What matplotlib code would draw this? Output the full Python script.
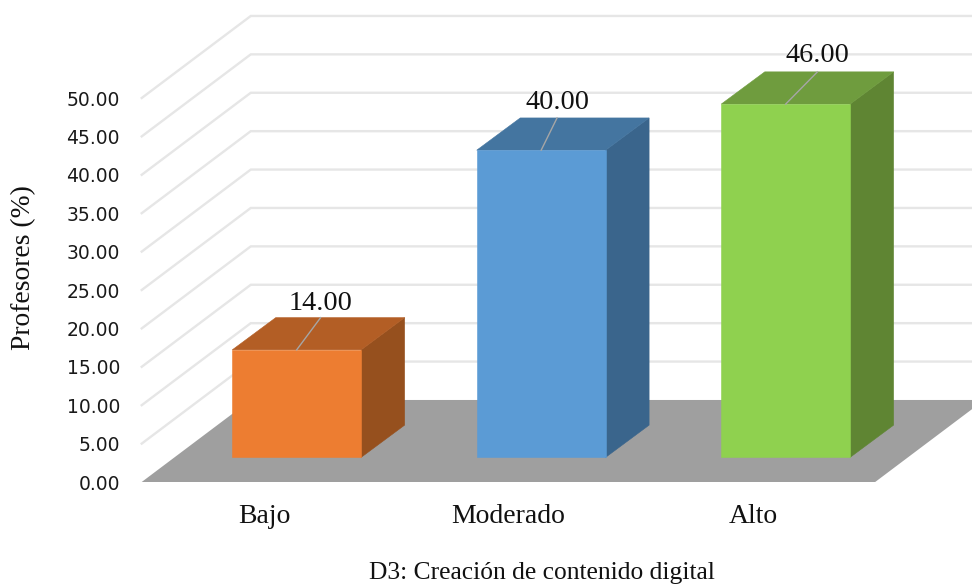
import numpy as np
import matplotlib
matplotlib.use("Agg")
import matplotlib.pyplot as plt

categories = ["Bajo", "Moderado", "Alto"]
values = [14.00, 40.00, 46.00]
front_colors = ["#ED7D31", "#5B9BD5", "#8FD14F"]
top_colors = ["#B35E25", "#4475A0", "#6F9C3E"]
side_colors = ["#96501E", "#3A658C", "#5F8533"]
y_ticks = [0, 5, 10, 15, 20, 25, 30, 35, 40, 45, 50]

# fake 3d: floor depth and bar depth in data units
floor_dx, floor_dy = 0.446, 10.68
bar_dx, bar_dy = 0.178, 4.2
bar_w = 0.527
base = 0.3
# how far each leader line leans to the right, and label gap above it
leader_dx = [0.098, 0.065, 0.13]
label_gap = [5.2, 6.6, 7.2]

serif = "Liberation Serif"

fig = plt.figure(figsize=(9.72, 5.84), dpi=100)
ax = fig.add_axes([140 / 972, 102 / 584, 832 / 972, 482 / 584])
ax.set_xlim(-0.507, 2.896)
ax.set_ylim(0, 482 / 7.68)

# walls
for v in y_ticks[1:]:
    ax.plot([-0.5, -0.5 + floor_dx, 3.2], [v, v + floor_dy, v + floor_dy],
            color="#E6E6E6", lw=1.7, zorder=1, solid_joinstyle="miter", clip_on=True)

ax.fill([-0.5, 2.5, 2.5 + floor_dx, -0.5 + floor_dx], [0, 0, floor_dy, floor_dy],
        color="#9F9F9F", lw=0, zorder=2)

for i, val in enumerate(values):
    xc = i + base * floor_dx
    y0 = base * floor_dy
    y1 = y0 + val
    x0, x1 = xc - bar_w / 2, xc + bar_w / 2
    ax.fill([x1, x1 + bar_dx, x1 + bar_dx, x1], [y0, y0 + bar_dy, y1 + bar_dy, y1],
            fc=side_colors[i], ec=side_colors[i], lw=0.4, zorder=4)
    ax.fill([x0, x1, x1 + bar_dx, x0 + bar_dx], [y1, y1, y1 + bar_dy, y1 + bar_dy],
            fc=top_colors[i], ec=top_colors[i], lw=0.4, zorder=4)
    ax.fill([x0, x1, x1, x0], [y0, y0, y1, y1], fc=front_colors[i], ec=front_colors[i], lw=0.4, zorder=4)
    end_x = xc + leader_dx[i]
    ax.plot([xc, end_x], [y1, y1 + bar_dy], color="#A6A6A6", lw=1, zorder=5)
    ax.annotate(f"{val:.2f}", (end_x, y1 + bar_dy), xytext=(0, label_gap[i]),
                textcoords="offset points", ha="center", va="baseline",
                family=serif, fontsize=20.3, color="#111111", zorder=6)

for s in ax.spines.values():
    s.set_visible(False)
ax.patch.set_visible(False)
ax.set_yticks(y_ticks)
ax.set_yticklabels([f"{v:.2f}" for v in y_ticks], fontsize=13.5, color="#1A1A1A", family="DejaVu Sans")
ax.set_xticks(range(3))
ax.set_xticklabels(categories, family=serif, fontsize=20, color="#111111")
ax.tick_params(axis="y", length=0, pad=14.4)
ax.tick_params(axis="x", length=0, pad=16)
ax.set_xlabel("D3: Creación de contenido digital", family=serif, fontsize=18.4, color="#111111",
              va="baseline")
ax.xaxis.set_label_coords((542 - 140) / 832, -(579 - 482) / 482, transform=ax.transAxes)
ax.set_ylabel("Profesores (%)", family=serif, fontsize=19.8, color="#111111")
ax.yaxis.set_label_coords(-(140 - 36) / 832, (482 - 268) / 482, transform=ax.transAxes)

fig.savefig("out.png", dpi=100)
